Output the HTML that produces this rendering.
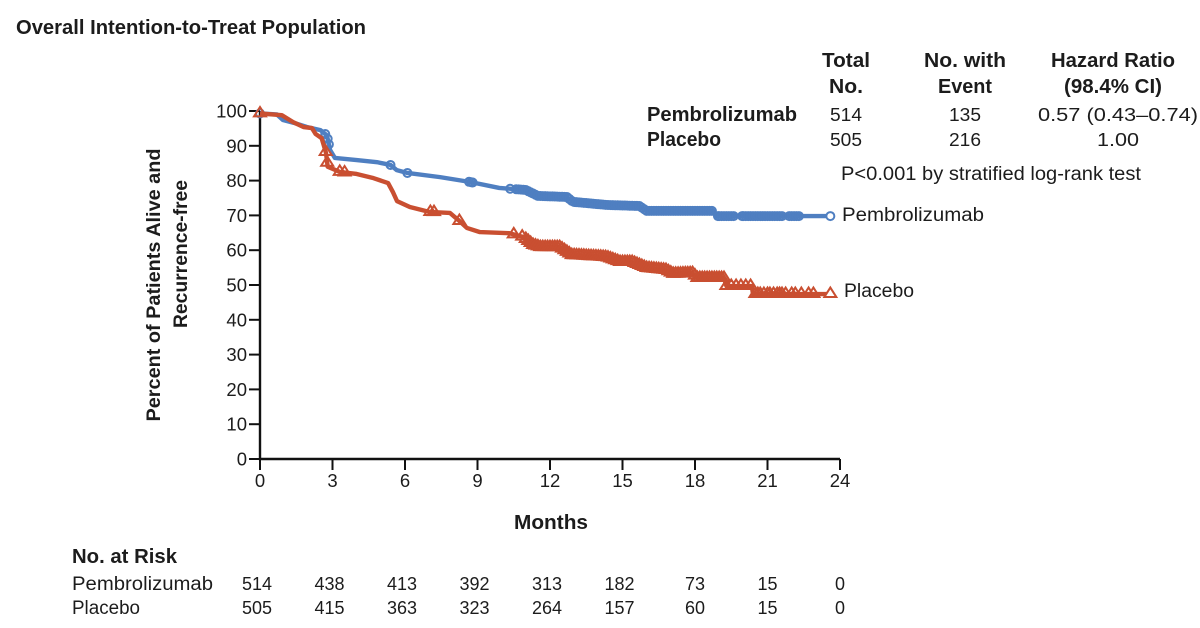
<!DOCTYPE html>
<html lang="en">
<head>
<meta charset="utf-8">
<title>Overall Intention-to-Treat Population</title>
<style>
html,body{margin:0;padding:0;background:#fff;}
svg{display:block;}
text{font-family:"Liberation Sans",sans-serif;fill:#1c1c1c;}
.b{font-weight:700;}
</style>
</head>
<body>
<svg id="chart" width="1200" height="628" viewBox="0 0 1200 628" xmlns="http://www.w3.org/2000/svg">
<rect width="1200" height="628" fill="#fff"/>
<text x="16" y="34" class="b" font-size="20" textLength="350" lengthAdjust="spacingAndGlyphs">Overall Intention-to-Treat Population</text>
<g font-size="20">
<text x="846" y="67" class="b" text-anchor="middle" textLength="48" lengthAdjust="spacingAndGlyphs">Total</text>
<text x="846" y="93" class="b" text-anchor="middle" textLength="34" lengthAdjust="spacingAndGlyphs">No.</text>
<text x="965" y="67" class="b" text-anchor="middle" textLength="82" lengthAdjust="spacingAndGlyphs">No. with</text>
<text x="965" y="93" class="b" text-anchor="middle" textLength="54" lengthAdjust="spacingAndGlyphs">Event</text>
<text x="1113" y="67" class="b" text-anchor="middle" textLength="124" lengthAdjust="spacingAndGlyphs">Hazard Ratio</text>
<text x="1113" y="93" class="b" text-anchor="middle" textLength="98" lengthAdjust="spacingAndGlyphs">(98.4% CI)</text>
<text x="647" y="121" class="b" textLength="150" lengthAdjust="spacingAndGlyphs">Pembrolizumab</text>
<text x="647" y="146" class="b" textLength="74" lengthAdjust="spacingAndGlyphs">Placebo</text>
<text x="846" y="121" text-anchor="middle" font-size="18" textLength="32" lengthAdjust="spacingAndGlyphs">514</text>
<text x="846" y="146" text-anchor="middle" font-size="18" textLength="32" lengthAdjust="spacingAndGlyphs">505</text>
<text x="965" y="121" text-anchor="middle" font-size="18" textLength="32" lengthAdjust="spacingAndGlyphs">135</text>
<text x="965" y="146" text-anchor="middle" font-size="18" textLength="32" lengthAdjust="spacingAndGlyphs">216</text>
<text x="1118" y="121" text-anchor="middle" font-size="18" textLength="160" lengthAdjust="spacingAndGlyphs">0.57 (0.43–0.74)</text>
<text x="1118" y="146" text-anchor="middle" font-size="18" textLength="42" lengthAdjust="spacingAndGlyphs">1.00</text>
<text x="841" y="180" font-size="19" textLength="300" lengthAdjust="spacingAndGlyphs">P&lt;0.001 by stratified log-rank test</text>
</g>
<text transform="translate(160,285) rotate(-90)" class="b" text-anchor="middle" font-size="19" textLength="273" lengthAdjust="spacingAndGlyphs">Percent of Patients Alive and</text>
<text transform="translate(187,254) rotate(-90)" class="b" text-anchor="middle" font-size="19" textLength="148" lengthAdjust="spacingAndGlyphs">Recurrence-free</text>
<text x="551" y="529" class="b" text-anchor="middle" font-size="20" textLength="74" lengthAdjust="spacingAndGlyphs">Months</text>
<text x="842" y="221" font-size="19" textLength="142" lengthAdjust="spacingAndGlyphs">Pembrolizumab</text>
<text x="844" y="297" font-size="19" textLength="70" lengthAdjust="spacingAndGlyphs">Placebo</text>
<text x="72" y="563" class="b" font-size="20" textLength="105" lengthAdjust="spacingAndGlyphs">No. at Risk</text>
<text x="72" y="590" font-size="19" textLength="141" lengthAdjust="spacingAndGlyphs">Pembrolizumab</text>
<text x="72" y="614" font-size="19" textLength="68" lengthAdjust="spacingAndGlyphs">Placebo</text>
<g id="plot"></g>
</svg>
<script>
const xTicks = [0,3,6,9,12,15,18,21,24];
const yTicks = [0,10,20,30,40,50,60,70,80,90,100];
const pembroTimes = [0,0.7,0.95,1.4,1.94,2.5,2.77,2.9,3.1,4,4.84,5.4,5.66,6.1,7.45,8.7,9.9,11,11.5,12.7,12.95,14.35,15.7,16,18.75,18.9,23.6];
const pembroValues = [99.3,99,97.4,96.6,95.4,94.5,93,88.8,86.5,85.9,85.3,84.5,83,82.2,81,79.6,77.9,77.3,75.6,75.3,73.9,73,72.7,71.3,71.3,69.8,69.8];
const placeboTimes = [0,0.9,1.37,1.8,2.15,2.3,2.55,2.73,2.8,3.3,4,4.7,5.3,5.5,5.67,6.2,7,7.86,8.2,8.56,9.1,10.3,10.9,11.3,11.6,12.4,12.9,14.35,14.9,15.4,16,16.8,17.1,17.9,18.1,19.2,19.3,20.35,20.4,23.6];
const placeboValues = [99.3,98.8,96.8,95.4,95.1,93.4,92.2,88,84,82.5,81.9,80.7,79.3,76.7,74.1,72.4,71,70.7,68.7,66.4,65.2,64.9,63.8,61.5,60.9,60.9,58.6,58,56.6,56.6,54.9,54.3,53.2,53.4,52,52,49.7,49.7,47.4,47.4];
const pembroCensored = [0,2.7,2.8,2.85,5.4,6.1,8.65,8.75,8.8,10.35,10.6,10.7,10.8,10.9,11,11.1,11.2,11.3,11.4,11.5,11.6,11.7,11.8,11.9,12,12.1,12.2,12.3,12.4,12.5,12.6,12.7,12.8,12.9,13,13.1,13.2,13.3,13.4,13.5,13.6,13.7,13.8,13.9,14,14.1,14.2,14.3,14.4,14.5,14.6,14.7,14.8,14.9,15,15.1,15.2,15.3,15.4,15.5,15.6,15.7,15.8,15.9,16,16.1,16.2,16.3,16.4,16.5,16.6,16.7,16.8,16.9,17,17.1,17.2,17.3,17.4,17.5,17.6,17.7,17.8,17.9,18,18.1,18.2,18.3,18.4,18.5,18.6,18.7,18.95,19,19.1,19.2,19.3,19.4,19.5,19.6,19.95,20,20.1,20.2,20.3,20.4,20.5,20.6,20.7,20.8,20.9,21,21.1,21.2,21.3,21.4,21.5,21.6,21.9,22,22.1,22.2,22.3,23.6];
const placeboCensored = [0,2.72,2.78,3.3,3.5,7.05,7.2,8.25,10.5,10.85,11,11.1,11.2,11.3,11.4,11.5,11.6,11.7,11.8,11.9,12,12.1,12.2,12.3,12.4,12.5,12.6,12.7,12.8,12.9,13,13.1,13.2,13.3,13.4,13.5,13.6,13.7,13.8,13.9,14,14.1,14.2,14.3,14.4,14.5,14.6,14.7,14.8,14.9,15,15.1,15.2,15.3,15.4,15.5,15.6,15.7,15.8,15.9,16,16.1,16.2,16.3,16.4,16.5,16.6,16.7,16.8,16.9,17,17.1,17.2,17.3,17.4,17.5,17.6,17.7,17.8,17.9,18,18.1,18.2,18.3,18.4,18.5,18.6,18.7,18.8,18.9,19,19.1,19.2,19.3,19.5,19.7,19.9,20.1,20.3,20.5,20.6,20.7,20.85,21,21.1,21.25,21.4,21.5,21.6,21.75,22,22.15,22.4,22.7,22.9,23.6];
const riskCounts = [0,3,6,9,12,15,18,21,24];
const pembroRisk = [514,438,413,392,313,182,73,15,0];
const placeboRisk = [505,415,363,323,264,157,60,15,0];

const NS = 'http://www.w3.org/2000/svg';
const plot = document.getElementById('plot');
const xAxis = v => 260 + v * 580 / 24;
const yAxis = v => 459 - v * 348 / 100;
function make(tag, attrs, parent) {
  const el = document.createElementNS(NS, tag);
  for (const k in attrs) el.setAttribute(k, attrs[k]);
  (parent || plot).appendChild(el);
  return el;
}
function curveValue(times, values, t) {
  for (let i = 1; i < times.length; i++) {
    if (t <= times[i]) {
      const f = (t - times[i-1]) / (times[i] - times[i-1]);
      return values[i-1] + f * (values[i] - values[i-1]);
    }
  }
  return values[values.length - 1];
}
function linePath(times, values) {
  return times.map((t, i) => (i ? 'L' : 'M') + xAxis(t) + ' ' + yAxis(values[i])).join('');
}

const axisLine = make('path', {d:'M' + xAxis(0) + ' ' + yAxis(100) + 'V' + yAxis(0) + 'H' + xAxis(24), fill:'none', stroke:'#111', 'stroke-width':2.4});



yTicks.forEach(v => {
  const tick = make('line', {x1:xAxis(0)-11, x2:xAxis(0), y1:yAxis(v), y2:yAxis(v), stroke:'#111', 'stroke-width':2});
  
  
  const label = make('text', {x:xAxis(0)-13, y:yAxis(v)+6.5, 'text-anchor':'end', 'font-size':18.5});
  label.textContent = v;
  
  
});
xTicks.forEach(v => {
  const tick = make('line', {x1:xAxis(v), x2:xAxis(v), y1:yAxis(0), y2:yAxis(0)+11, stroke:'#111', 'stroke-width':2});
  
  
  const label = make('text', {x:xAxis(v), y:yAxis(0)+28, 'text-anchor':'middle', 'font-size':18.5});
  label.textContent = v;
  
  
});

const pembroLine = make('path', {d:linePath(pembroTimes, pembroValues), fill:'none', stroke:'#4f7fc1', 'stroke-width':4.4, 'stroke-linejoin':'round'});


pembroCensored.forEach(t => {
  const isLast = t === pembroCensored[pembroCensored.length - 1];
  const m = make('circle', {cx:xAxis(t), cy:yAxis(curveValue(pembroTimes, pembroValues, t)), r:4, fill:isLast ? '#fff' : 'none', stroke:'#4f7fc1', 'stroke-width':2});
  
  
});

const placeboLine = make('path', {d:linePath(placeboTimes, placeboValues), fill:'none', stroke:'#c94f31', 'stroke-width':4.4, 'stroke-linejoin':'round'});


placeboCensored.forEach(t => {
  const cx = xAxis(t), cy = yAxis(curveValue(placeboTimes, placeboValues, t));
  const isLast = t === placeboCensored[placeboCensored.length - 1];
  const m = make('path', {d:'M' + (cx-6) + ' ' + (cy+3) + 'H' + (cx+6) + 'L' + cx + ' ' + (cy-6.5) + 'Z', fill:isLast ? '#fff' : 'none', stroke:'#c94f31', 'stroke-width':2});
  
  
});

riskCounts.forEach((t, i) => {
  const a = make('text', {x:xAxis(t) - (pembroRisk[i] >= 100 ? 3 : 0), y:590, 'text-anchor':'middle', 'font-size':18});
  a.textContent = pembroRisk[i];
  
  
  const b = make('text', {x:xAxis(t) - (placeboRisk[i] >= 100 ? 3 : 0), y:614, 'text-anchor':'middle', 'font-size':18});
  b.textContent = placeboRisk[i];
  
  
});
</script>
</body>
</html>
